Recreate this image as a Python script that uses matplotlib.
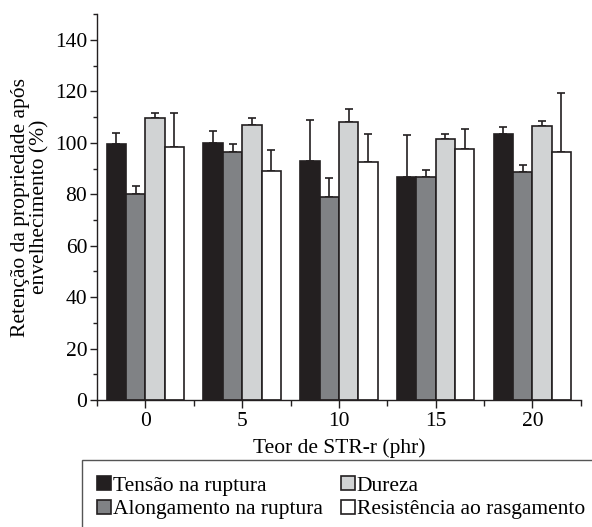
import numpy as np
import matplotlib
matplotlib.use("Agg")
import matplotlib.pyplot as plt
from matplotlib.patches import Rectangle

plt.rcParams['font.family'] = ['Liberation Serif', 'DejaVu Serif']
plt.rcParams['font.size'] = 15.5

# data
teor = [0, 5, 10, 15, 20]
series = ["Tensão na ruptura", "Alongamento na ruptura", "Dureza", "Resistência ao rasgamento"]
tensao = [99.5, 99.9, 92.8, 86.6, 103.3]
tensao_err = [4.5, 4.7, 16.0, 16.6, 2.7]
alongamento = [80.1, 96.5, 79.1, 86.6, 88.8]
alongamento_err = [3.2, 3.0, 7.1, 2.9, 2.5]
dureza = [109.6, 106.8, 108.1, 101.4, 106.7]
dureza_err = [1.9, 2.9, 4.9, 2.2, 1.8]
resistencia = [98.3, 88.9, 92.6, 97.7, 96.6]
resistencia_err = [13.1, 8.4, 11.0, 7.8, 22.9]

values = [tensao, alongamento, dureza, resistencia]
errors = [tensao_err, alongamento_err, dureza_err, resistencia_err]
colors = ["#231f20", "#808285", "#d1d3d4", "#ffffff"]
edge = "#231f20"

fig = plt.figure(figsize=(5.92, 5.27), dpi=100)
ax = fig.add_axes([0.164, 0.241, 0.817, 0.732])

x = np.array(teor, dtype=float)
offsets = [-1.5, -0.5, 0.5, 1.5]
for vals, errs, c, off, name in zip(values, errors, colors, offsets, series):
    ax.bar(x + off, vals, width=1.0, color=c, edgecolor=edge, linewidth=1.2,
           label=name, zorder=2)
    ax.errorbar(x + off, vals, yerr=[np.zeros(len(errs)), errs], fmt="none",
                ecolor=edge, elinewidth=1.2, capsize=3, capthick=1.2, zorder=1)

ax.set_xlim(-2.5, 22.5)
ax.set_ylim(0, 150)
ax.set_xticks(teor)
ax.set_xticks([-2.5, 2.5, 7.5, 12.5, 17.5, 22.5], minor=True)
ax.set_yticks(range(0, 141, 20))
ax.set_yticks(range(10, 151, 10), minor=True)
ax.spines['top'].set_visible(False)
ax.spines['right'].set_visible(False)
for s in ['left', 'bottom']:
    ax.spines[s].set_color(edge)
    ax.spines[s].set_linewidth(1.0)
ax.tick_params(which='major', length=5, width=1.0, color=edge, labelsize=15.5, pad=2)
ax.tick_params(which='minor', length=3, width=1.0, color=edge)
ax.tick_params(axis='x', which='major', length=6, pad=3)
ax.tick_params(axis='x', which='minor', length=4)

ax.set_xlabel("Teor de STR-r (phr)", labelpad=5)
ax.set_ylabel("Retenção da propriedade após\nenvelhecimento (%)", labelpad=4,
              linespacing=1.0)

# legend box, cut at the figure edge like the original
fig.patches.append(Rectangle((0.138, -0.05), 1.0, 0.177, transform=fig.transFigure,
                             facecolor="none", edgecolor="#555555", linewidth=1.0))
fig.legend(loc="upper left", bbox_to_anchor=(0.146, 0.117), ncol=2, frameon=False,
           handlelength=0.62, handleheight=0.62, handletextpad=0.1,
           columnspacing=0.87, labelspacing=0.19, borderpad=0, fontsize=15.5)

fig.savefig("out.png", dpi=100)
